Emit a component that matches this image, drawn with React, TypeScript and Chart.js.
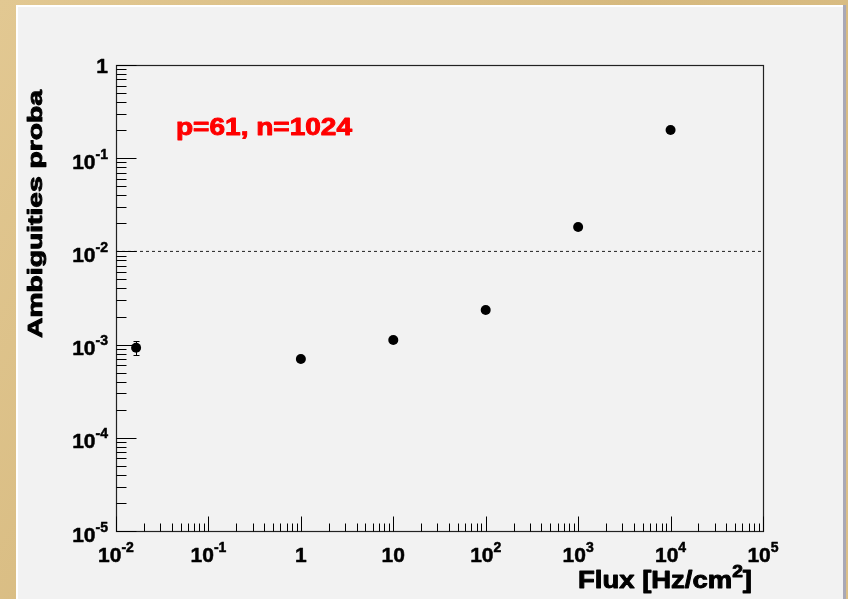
import { useEffect, useRef } from "react";
import { Chart, registerables } from "chart.js";

Chart.register(...registerables);

// ---------- data ----------
const fluxValues = [0.0165, 1, 10, 100, 1000, 10000];
const ambiguityProba = [9.26e-4, 7.0e-4, 1.12e-3, 2.35e-3, 0.0183, 0.201];
const probaErrors = [1.6e-4, 0, 0, 0, 0, 0];
const thresholdProba = 0.01;

const xTickValues = [0.01, 0.1, 1, 10, 100, 1000, 10000, 100000];
const xTickLabels = ["10^{-2}", "10^{-1}", "1", "10", "10^{2}", "10^{3}", "10^{4}", "10^{5}"];
const yTickValues = [1e-5, 1e-4, 1e-3, 1e-2, 1e-1, 1];
const yTickLabels = ["10^{-5}", "10^{-4}", "10^{-3}", "10^{-2}", "10^{-1}", "1"];
const minorMultipliers = [2, 3, 4, 5, 6, 7, 8, 9];

const xAxisTitle = "Flux [Hz/cm^{2}]";
const yAxisTitle = "Ambiguities proba";
const annotationText = "p=61, n=1024";

// ---------- layout ----------
const W = 848;
const H = 599;
const FONT = "'Liberation Sans', Arial, Helvetica, sans-serif";

type Seg = { t: string; sup: boolean };
function parseRich(s: string): Seg[] {
  const out: Seg[] = [];
  const re = /\^\{([^}]*)\}/g;
  let last = 0;
  let m: RegExpExecArray | null;
  while ((m = re.exec(s))) {
    if (m.index > last) out.push({ t: s.slice(last, m.index), sup: false });
    out.push({ t: m[1], sup: true });
    last = m.index + m[0].length;
  }
  if (last < s.length) out.push({ t: s.slice(last), sup: false });
  return out;
}

function richWidth(ctx: CanvasRenderingContext2D, segs: Seg[], base: number, sup: number) {
  let w = 0;
  for (const s of segs) {
    ctx.font = `bold ${s.sup ? sup : base}px ${FONT}`;
    w += ctx.measureText(s.t).width;
  }
  return w;
}

function drawRich(
  ctx: CanvasRenderingContext2D,
  text: string,
  x: number,
  y: number,
  o: {
    base: number;
    sup: number;
    rise: number;
    align?: "left" | "right" | "center";
    target?: number;
    rot?: number;
    color?: string;
    heavy?: number;
  }
) {
  const segs = parseRich(text);
  const w = richWidth(ctx, segs, o.base, o.sup);
  const sx = o.target ? o.target / w : 1;
  ctx.save();
  ctx.translate(x, y);
  if (o.rot) ctx.rotate(o.rot);
  ctx.scale(sx, 1);
  let cx = o.align === "right" ? -w : o.align === "center" ? -w / 2 : 0;
  const col = o.color || "#000";
  ctx.fillStyle = col;
  ctx.strokeStyle = col;
  ctx.lineJoin = "round";
  ctx.lineWidth = o.heavy ?? 0;
  ctx.textAlign = "left";
  ctx.textBaseline = "alphabetic";
  for (const s of segs) {
    ctx.font = `bold ${s.sup ? o.sup : o.base}px ${FONT}`;
    const yy = s.sup ? -o.rise : 0;
    ctx.fillText(s.t, cx, yy);
    if (o.heavy) ctx.strokeText(s.t, cx, yy);
    cx += ctx.measureText(s.t).width;
  }
  ctx.restore();
}

const rootPlugin = {
  id: "rootStyle",
  beforeDraw(chart: any) {
    const ctx: CanvasRenderingContext2D = chart.ctx;
    ctx.save();
    const g = ctx.createLinearGradient(0, 0, W, H);
    g.addColorStop(0, "#e2c892");
    g.addColorStop(0.5, "#d6b97e");
    g.addColorStop(1, "#dcc089");
    ctx.fillStyle = g;
    ctx.fillRect(0, 0, W, H);
    // panel
    ctx.fillStyle = "#f2f2f2";
    ctx.fillRect(16, 5, 827, H - 5);
    ctx.fillStyle = "#ffffff";
    ctx.fillRect(16, 5, 827, 2);
    ctx.fillRect(16, 5, 2, H - 5);
    ctx.fillStyle = "#a9a8b6";
    ctx.fillRect(843, 5, 3, H - 5);
    ctx.restore();
  },
  beforeDatasetsDraw(chart: any) {
    const ctx: CanvasRenderingContext2D = chart.ctx;
    const xs = chart.scales.x;
    const ys = chart.scales.y;
    ctx.save();
    ctx.strokeStyle = "#000";
    ctx.lineWidth = 1;
    fluxValues.forEach((fx, i) => {
      const e = probaErrors[i];
      if (!e) return;
      const px = Math.round(xs.getPixelForValue(fx)) + 0.5;
      const y1 = ys.getPixelForValue(ambiguityProba[i] + e);
      const y2 = ys.getPixelForValue(ambiguityProba[i] - e);
      ctx.beginPath();
      ctx.moveTo(px, y1);
      ctx.lineTo(px, y2);
      ctx.moveTo(px - 3, Math.round(y1) + 0.5);
      ctx.lineTo(px + 3, Math.round(y1) + 0.5);
      ctx.moveTo(px - 3, Math.round(y2) + 0.5);
      ctx.lineTo(px + 3, Math.round(y2) + 0.5);
      ctx.stroke();
    });
    ctx.restore();
  },
  afterDatasetsDraw(chart: any) {
    const ctx: CanvasRenderingContext2D = chart.ctx;
    const a = chart.chartArea;
    const xs = chart.scales.x;
    const ys = chart.scales.y;
    ctx.save();
    // frame
    ctx.strokeStyle = "#222";
    ctx.lineWidth = 1.2;
    const L = Math.round(a.left) + 0.5;
    const R = Math.round(a.right) + 0.5;
    const T = Math.round(a.top) + 0.5;
    const B = Math.round(a.bottom) + 0.5;
    ctx.strokeRect(L, T, R - L, B - T);

    // x ticks
    ctx.strokeStyle = "#000";
    ctx.lineWidth = 1;
    ctx.beginPath();
    xTickValues.forEach((v, i) => {
      const px = Math.round(xs.getPixelForValue(v)) + 0.5;
      ctx.moveTo(px, B);
      ctx.lineTo(px, B - 15);
      if (i < xTickValues.length - 1) {
        minorMultipliers.forEach((m) => {
          const mx = Math.round(xs.getPixelForValue(v * m)) + 0.5;
          ctx.moveTo(mx, B);
          ctx.lineTo(mx, B - 8);
        });
      }
    });
    // y ticks
    yTickValues.forEach((v, i) => {
      const py = Math.round(ys.getPixelForValue(v)) + 0.5;
      ctx.moveTo(L, py);
      ctx.lineTo(L + 20, py);
      if (i < yTickValues.length - 1) {
        minorMultipliers.forEach((m) => {
          const my = Math.round(ys.getPixelForValue(v * m)) + 0.5;
          ctx.moveTo(L, my);
          ctx.lineTo(L + 10, my);
        });
      }
    });
    ctx.stroke();

    // x tick labels
    xTickLabels.forEach((lab, i) => {
      const px = xs.getPixelForValue(xTickValues[i]);
      drawRich(ctx, lab, px, a.bottom + 31, { base: 21, sup: 14, rise: 10, align: "center", heavy: 0.5 });
    });
    // y tick labels
    yTickLabels.forEach((lab, i) => {
      const py = ys.getPixelForValue(yTickValues[i]);
      const hasSup = lab.includes("^");
      drawRich(ctx, lab, a.left - 8, py + (hasSup ? 10.5 : 7.5), {
        base: 21,
        sup: 14,
        rise: 10,
        align: "right",
        heavy: 0.5,
      });
    });

    // axis titles
    drawRich(ctx, xAxisTitle, a.right - 11, a.bottom + 57, {
      base: 23,
      sup: 16,
      rise: 11,
      align: "right",
      target: 174,
      heavy: 0.9,
    });
    drawRich(ctx, yAxisTitle, 42, a.top + 273, {
      base: 21,
      sup: 14,
      rise: 9,
      align: "left",
      target: 248,
      rot: -Math.PI / 2,
      heavy: 0.9,
    });

    // annotation
    drawRich(ctx, annotationText, a.left + 60, a.top + 70, {
      base: 23,
      sup: 14,
      rise: 9,
      align: "left",
      target: 176,
      color: "#ff0000",
      heavy: 0.9,
    });
    ctx.restore();
  },
};

export default function App() {
  const ref = useRef<HTMLCanvasElement>(null);
  useEffect(() => {
    const chart = new Chart(ref.current as HTMLCanvasElement, {
      type: "scatter",
      data: {
        datasets: [
          {
            type: "line",
            data: [
              { x: xTickValues[0], y: thresholdProba },
              { x: xTickValues[xTickValues.length - 1], y: thresholdProba },
            ],
            showLine: true,
            borderColor: "#222",
            borderWidth: 1,
            borderDash: [3, 3],
            pointRadius: 0,
            fill: false,
            order: 2,
          } as any,
          {
            data: fluxValues.map((x, i) => ({ x, y: ambiguityProba[i] })),
            backgroundColor: "#000",
            borderColor: "#000",
            borderWidth: 0,
            pointRadius: 5,
            pointHoverRadius: 5,
            order: 1,
          },
        ],
      },
      options: {
        responsive: false,
        animation: false,
        devicePixelRatio: 1,
        events: [],
        layout: { padding: { left: 116, top: 65, right: 85, bottom: 68 } },
        plugins: { legend: { display: false }, tooltip: { enabled: false }, title: { display: false } },
        scales: {
          x: {
            type: "logarithmic",
            min: xTickValues[0],
            max: xTickValues[xTickValues.length - 1],
            display: false,
          },
          y: {
            type: "logarithmic",
            min: yTickValues[0],
            max: yTickValues[yTickValues.length - 1],
            display: false,
          },
        },
      },
      plugins: [rootPlugin],
    });
    return () => chart.destroy();
  }, []);
  return (
    <div style={{ position: "absolute", left: 0, top: 0, width: W, height: H }}>
      <canvas ref={ref} width={W} height={H} style={{ display: "block" }} />
    </div>
  );
}
